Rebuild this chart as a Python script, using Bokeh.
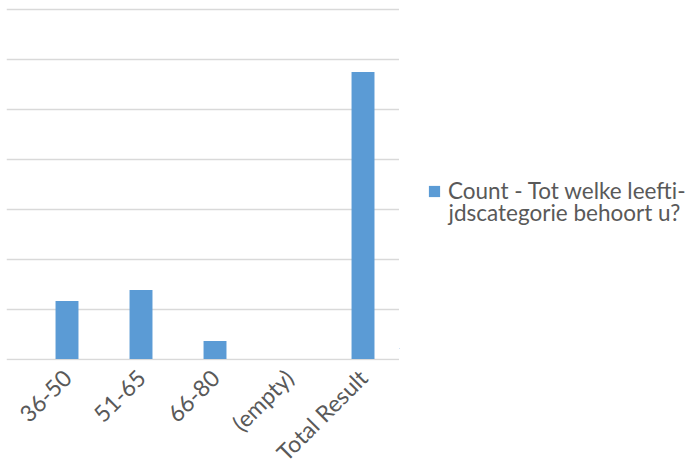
from bokeh.plotting import figure
from bokeh.layouts import row
from bokeh.models import FixedTicker, Range1d, Legend, LegendItem, Label
from bokeh.embed import file_html
from bokeh.resources import INLINE

categories = ["36-50", "51-65", "66-80", "(empty)", "Total Result"]
counts = [11.6, 13.8, 3.6, 0, 57.4]
y_ticks = [0, 10, 20, 30, 40, 50, 60, 70]
series_line1 = "Count - Tot welke leefti-"
series_line2 = "jdscategorie behoort u?"
bar_color = "#5b9bd5"
text_color = "#595959"

xs = list(range(len(categories)))

p = figure(frame_width=393, frame_height=353, output_backend="svg", toolbar_location=None,
           x_range=Range1d(-0.8176, 4.493), y_range=Range1d(-0.3, 70.3),
           min_border_left=6, min_border_top=7, min_border_right=0, min_border_bottom=106)
p.outline_line_color = None

r = p.vbar(x=xs, top=counts, width=0.31, color=bar_color, line_color=None)

p.yaxis.visible = False
p.ygrid.ticker = FixedTicker(ticks=y_ticks)
p.ygrid.grid_line_color = "#d9d9d9"
p.ygrid.grid_line_width = 1.5
p.xgrid.visible = False

ax = p.xaxis[0]
ax.ticker = FixedTicker(ticks=xs)
ax.major_label_overrides = {i: c for i, c in enumerate(categories)}
ax.major_label_orientation = 0.785398
ax.axis_line_color = None
ax.major_tick_line_color = None
ax.minor_tick_line_color = None
ax.major_label_text_font = "Lato"
ax.major_label_text_font_size = "23px"
ax.major_label_text_color = text_color
ax.major_label_standoff = 7

# legend panel: its swatch renderer holds the series, kept far outside its view
p2 = figure(width=289, height=466, output_backend="svg", toolbar_location=None,
            x_range=Range1d(100, 101), y_range=Range1d(100, 101),
            min_border_left=0, min_border_top=0, min_border_right=0, min_border_bottom=0)
p2.outline_line_color = None
p2.axis.visible = False
p2.grid.visible = False
r2 = p2.vbar(x=xs, top=counts, width=0.31, color=bar_color, line_color=None)
legend = Legend(items=[LegendItem(label=series_line1, renderers=[r2])],
                location=(28, 144), border_line_color=None, background_fill_alpha=0,
                label_text_font="Lato", label_text_font_size="22.5px",
                label_text_color=text_color, glyph_width=14, glyph_height=14,
                label_standoff=7, padding=0, margin=0, spacing=0)
p2.add_layout(legend, "center")
p2.add_layout(Label(x=49, y=136, x_units="screen", y_units="screen",
                    text=series_line2, text_font="Lato", text_font_size="22.5px",
                    text_color=text_color, text_baseline="alphabetic"))

open("out.html", "w").write(file_html(row(p, p2), INLINE))
